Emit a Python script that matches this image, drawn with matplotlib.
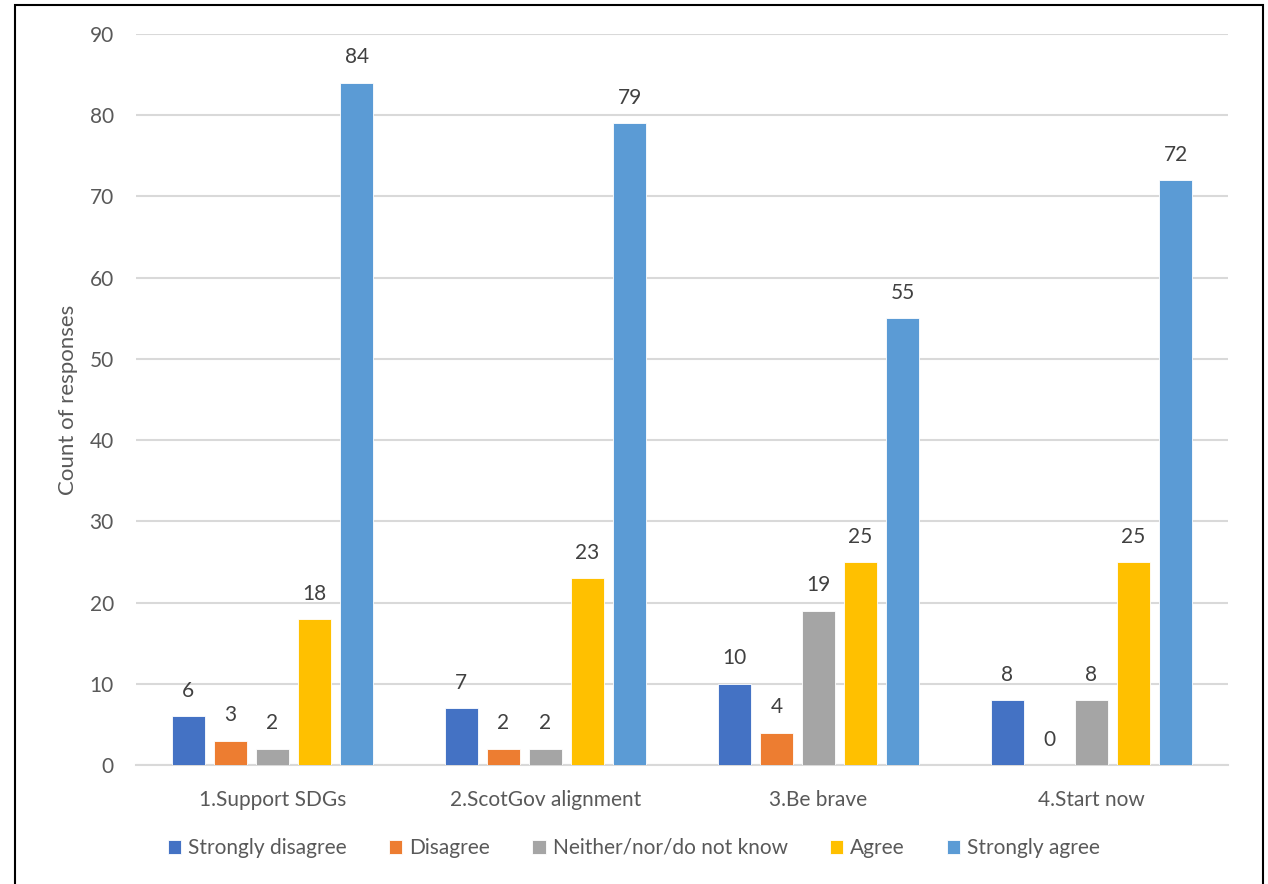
import numpy as np
import matplotlib.pyplot as plt
from matplotlib.patches import Rectangle

categories = ['1.Support SDGs', '2.ScotGov alignment', '3.Be brave', '4.Start now']
series = ['Strongly disagree', 'Disagree', 'Neither/nor/do not know', 'Agree', 'Strongly agree']
strongly_disagree = [6, 7, 10, 8]
disagree = [3, 2, 4, 0]
neither = [2, 2, 19, 8]
agree = [18, 23, 25, 25]
strongly_agree = [84, 79, 55, 72]
colors = ['#4472C4', '#ED7D31', '#A5A5A5', '#FFC000', '#5B9BD5']

plt.rcParams['font.family'] = ['Lato', 'DejaVu Sans']

fig = plt.figure(figsize=(12.68, 8.84), dpi=100)
ax = fig.add_axes([136/1268, 1 - 765/884, (1228 - 136)/1268, (765 - 34)/884])

x = np.arange(len(categories))
width = 0.121
step = 0.154
data = [strongly_disagree, disagree, neither, agree, strongly_agree]
for i, (vals, name, c) in enumerate(zip(data, series, colors)):
    pos = x + (i - 2) * step
    ax.bar(pos, vals, width, color=c, label=name, zorder=3,
           edgecolor='white', linewidth=0.6)
    for p, v in zip(pos, vals):
        ax.annotate(str(v), (p, v), xytext=(0, 11), textcoords='offset points',
                    ha='center', va='bottom', fontsize=15, color='#404040')

ax.set_xlim(-0.5, 3.5)
ax.set_ylim(0, 90)
ax.set_yticks(range(0, 91, 10))
ax.set_xticks(x)
ax.set_xticklabels(categories)
ax.grid(axis='y', color='#D9D9D9', linewidth=1.5, zorder=0)
for s in ['top', 'right', 'left']:
    ax.spines[s].set_visible(False)
ax.spines['bottom'].set_color('#D9D9D9')
ax.spines['bottom'].set_linewidth(1.5)
ax.tick_params(axis='both', length=0, labelsize=15, labelcolor='#595959')
ax.tick_params(axis='y', pad=16)
ax.tick_params(axis='x', pad=18)
ax.set_ylabel('Count of responses', fontsize=16, color='#595959', labelpad=8)

handles, labels = ax.get_legend_handles_labels()
fig.legend(handles, labels, loc='center', bbox_to_anchor=(0.5, 1 - 848/884), ncol=5,
           frameon=False, fontsize=15, labelcolor='#595959',
           handlelength=0.65, handleheight=0.65, handletextpad=0.35, columnspacing=2.0)

fig.patches.append(Rectangle((15/1268, -0.02), 1248/1268, 1.02 - 5/884,
                             transform=fig.transFigure, fill=False,
                             edgecolor='black', linewidth=1.5))

fig.savefig('out.png', dpi=100)
